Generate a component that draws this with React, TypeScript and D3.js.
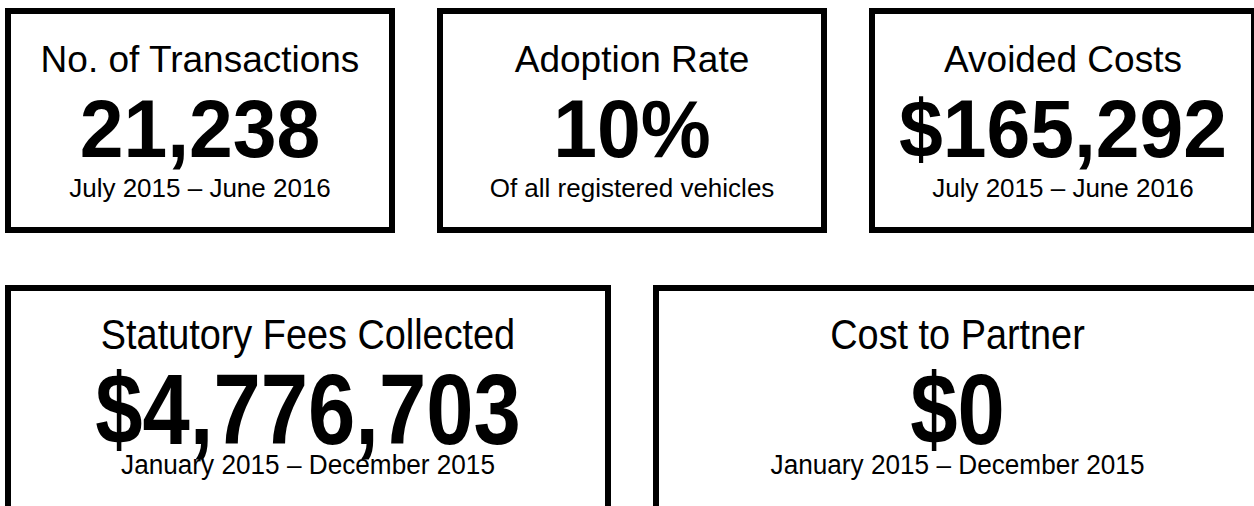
import React from "react";
import * as d3 from "d3";

// ---- data ----
const topTitles = ["No. of Transactions", "Adoption Rate", "Avoided Costs"];
const topValues = [21238, 0.1, 165292];
const topFormats = [",", ".0%", "$,"];
const topSubtitles = ["July 2015 – June 2016", "Of all registered vehicles", "July 2015 – June 2016"];

const bottomTitles = ["Statutory Fees Collected", "Cost to Partner"];
const bottomValues = [4776703, 0];
const bottomFormats = ["$,", "$,"];
const bottomSubtitles = ["January 2015 – December 2015", "January 2015 – December 2015"];

const W = 1254;
const H = 506;
const SW = 6;
const FONT = "'Liberation Sans', Arial, Helvetica, sans-serif";

// outer box edges
const topBoxes = [
  [5, 395],
  [437, 827],
  [869, 1257],
];
const bottomBoxes = [
  [5, 611],
  [653, 1262],
];

export default function App() {
  const topCards = topTitles.map((t, i) => ({
    title: t,
    value: d3.format(topFormats[i])(topValues[i]),
    sub: topSubtitles[i],
    x0: topBoxes[i][0],
    x1: topBoxes[i][1],
  }));
  const bottomCards = bottomTitles.map((t, i) => ({
    title: t,
    value: d3.format(bottomFormats[i])(bottomValues[i]),
    sub: bottomSubtitles[i],
    x0: bottomBoxes[i][0],
    x1: bottomBoxes[i][1],
  }));

  const topY0 = 8, topY1 = 233;
  const botY0 = 285, botY1 = 560;

  return (
    <svg
      width={W}
      height={H}
      style={{ position: "absolute", left: 0, top: 0, background: "#fff" }}
      fontFamily={FONT}
    >
      <rect x={0} y={0} width={W} height={H} fill="#fff" />
      {topCards.map((c, i) => {
        const cx = (c.x0 + c.x1) / 2;
        return (
          <g key={"t" + i}>
            <rect
              x={c.x0 + SW / 2}
              y={topY0 + SW / 2}
              width={c.x1 - c.x0 - SW}
              height={topY1 - topY0 - SW}
              fill="none"
              stroke="#000"
              strokeWidth={SW}
            />
            <text x={cx} y={72} textAnchor="middle" fontSize={37} fill="#000">
              {c.title}
            </text>
            <g transform={`translate(${cx},157) scale(0.96,1)`}>
              <text x={0} y={0} textAnchor="middle" fontSize={82} fontWeight="bold" fill="#000">
                {c.value}
              </text>
            </g>
            <text x={cx} y={197} textAnchor="middle" fontSize={26} fill="#000">
              {c.sub}
            </text>
          </g>
        );
      })}
      {bottomCards.map((c, i) => {
        const cx = (c.x0 + c.x1) / 2;
        return (
          <g key={"b" + i}>
            <rect
              x={c.x0 + SW / 2}
              y={botY0 + SW / 2}
              width={c.x1 - c.x0 - SW}
              height={botY1 - botY0 - SW}
              fill="none"
              stroke="#000"
              strokeWidth={SW}
            />
            <g transform={`translate(${cx},349) scale(0.88,1)`}>
              <text x={0} y={0} textAnchor="middle" fontSize={43} fill="#000">
                {c.title}
              </text>
            </g>
            <g transform={`translate(${cx},444) scale(0.85,1)`}>
              <text x={0} y={0} textAnchor="middle" fontSize={100} fontWeight="bold" fill="#000">
                {c.value}
              </text>
            </g>
            <g transform={`translate(${cx},474) scale(0.97,1)`}>
              <text x={0} y={0} textAnchor="middle" fontSize={27} fill="#000">
                {c.sub}
              </text>
            </g>
          </g>
        );
      })}
    </svg>
  );
}
